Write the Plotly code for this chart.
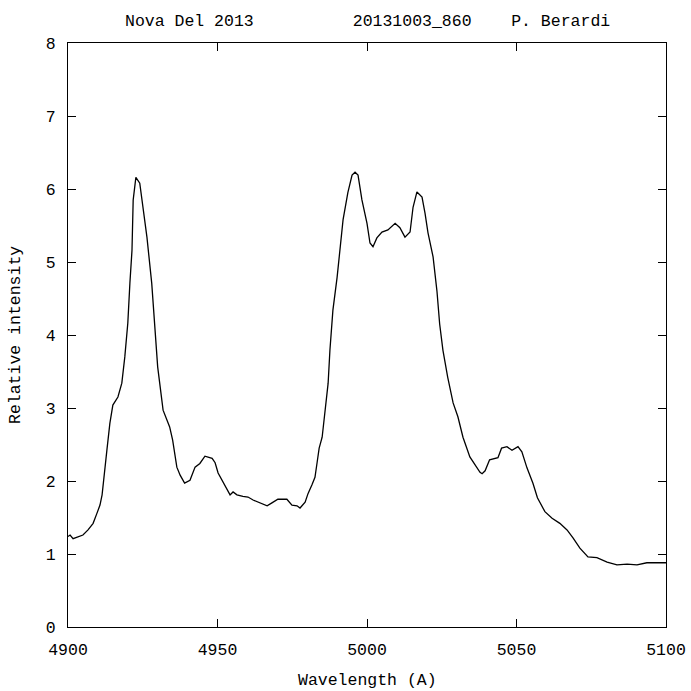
import plotly.graph_objects as go

wavelength = [
    4900.0, 4900.7, 4901.7, 4903.3, 4905.0, 4906.7, 4908.4, 4909.7, 4910.7, 4911.4,
    4912.0, 4913.0, 4914.0, 4915.0, 4916.7, 4918.0, 4919.0, 4920.0, 4920.7, 4921.4,
    4921.8, 4922.7, 4924.0, 4925.0, 4926.4, 4928.0, 4929.0, 4930.0, 4931.8, 4934.0,
    4935.0, 4936.4, 4937.5, 4939.0, 4940.8, 4942.5, 4944.1, 4945.8, 4948.2, 4949.2,
    4950.2, 4951.5, 4952.5, 4954.2, 4955.2, 4956.5, 4958.5, 4960.2, 4961.9, 4964.2,
    4966.6, 4968.2, 4970.2, 4973.2, 4974.9, 4976.6, 4977.6, 4979.3, 4980.3, 4981.6,
    4982.6, 4983.3, 4984.0, 4985.0, 4986.0, 4987.0, 4987.6, 4988.6, 4990.0, 4991.0,
    4992.0, 4993.6, 4995.0, 4996.0, 4997.0, 4998.3, 5000.0, 5001.0, 5002.0, 5003.3,
    5005.0, 5007.0, 5009.4, 5011.0, 5012.7, 5014.4, 5015.4, 5016.7, 5018.4, 5019.4,
    5020.4, 5022.1, 5023.4, 5024.3, 5025.4, 5027.0, 5028.8, 5030.4, 5032.1, 5034.4,
    5036.1, 5037.8, 5038.5, 5039.5, 5041.0, 5043.8, 5045.0, 5046.8, 5048.5, 5050.5,
    5051.8, 5053.5, 5055.5, 5057.0, 5059.5, 5061.9, 5064.5, 5066.9, 5068.9, 5071.2,
    5073.9, 5076.9, 5080.3, 5083.6, 5087.0, 5090.3, 5093.6, 5100.0,
]
intensity = [
    1.24, 1.26, 1.21, 1.23, 1.26, 1.33, 1.42, 1.56, 1.67, 1.81,
    2.01, 2.42, 2.79, 3.04, 3.15, 3.34, 3.70, 4.16, 4.71, 5.16,
    5.85, 6.16, 6.08, 5.75, 5.34, 4.71, 4.11, 3.56, 2.97, 2.74,
    2.56, 2.19, 2.08, 1.97, 2.01, 2.19, 2.24, 2.34, 2.31, 2.25,
    2.11, 2.01, 1.92, 1.81, 1.85, 1.81, 1.79, 1.78, 1.74, 1.70,
    1.66, 1.70, 1.75, 1.75, 1.67, 1.66, 1.63, 1.71, 1.83, 1.95,
    2.05, 2.25, 2.45, 2.60, 2.97, 3.34, 3.79, 4.34, 4.79, 5.21,
    5.58, 5.95, 6.19, 6.23, 6.19, 5.85, 5.53, 5.26, 5.21, 5.33,
    5.41, 5.44, 5.53, 5.47, 5.34, 5.41, 5.75, 5.96, 5.89, 5.67,
    5.40, 5.07, 4.60, 4.15, 3.79, 3.42, 3.07, 2.88, 2.60, 2.33,
    2.22, 2.12, 2.10, 2.14, 2.29, 2.32, 2.45, 2.47, 2.42, 2.47,
    2.40, 2.18, 1.97, 1.77, 1.58, 1.49, 1.42, 1.33, 1.22, 1.08,
    0.96, 0.95, 0.89, 0.85, 0.86, 0.85, 0.88, 0.88,
]

x_ticks = [4900, 4950, 5000, 5050, 5100]
y_ticks = [0, 1, 2, 3, 4, 5, 6, 7, 8]
title_text = "Nova Del 2013          20131003_860    P. Berardi"
x_title = "Wavelength (A)"
y_title = "Relative intensity"

FONT = dict(family="Liberation Mono, DejaVu Sans Mono, monospace", size=16.5, color="black")

fig = go.Figure()
fig.add_trace(go.Scatter(
    x=wavelength, y=intensity, mode="lines",
    line=dict(color="black", width=1.3),
    showlegend=False, hoverinfo="skip",
))

fig.update_layout(
    width=691, height=691,
    margin=dict(l=68, r=25, t=43, b=64, autoexpand=False),
    paper_bgcolor="white", plot_bgcolor="white",
    font=FONT,
    annotations=[
        dict(text=title_text, xref="paper", yref="paper", x=0.5, y=1.0,
             yshift=22, showarrow=False, xanchor="center", yanchor="middle", font=FONT),
        dict(text=x_title, xref="paper", yref="paper", x=0.5, y=0.0,
             yshift=-53, showarrow=False, xanchor="center", yanchor="middle", font=FONT),
        dict(text=y_title, xref="paper", yref="paper", x=0.0, y=0.5,
             xshift=-53, showarrow=False, xanchor="center", yanchor="middle",
             textangle=-90, font=FONT),
    ],
)
fig.update_xaxes(
    range=[4900, 5100], tickvals=x_ticks, ticktext=[str(v) for v in x_ticks],
    ticks="inside", ticklen=8, tickcolor="black", tickwidth=1,
    showline=True, linecolor="black", linewidth=1, mirror="ticks",
    showgrid=False, zeroline=False, ticklabelstandoff=7, automargin=False,
)
fig.update_yaxes(
    range=[0, 8], tickvals=y_ticks, ticktext=[str(v) for v in y_ticks],
    ticks="inside", ticklen=8, tickcolor="black", tickwidth=1,
    showline=True, linecolor="black", linewidth=1, mirror="ticks",
    showgrid=False, zeroline=False, ticklabelstandoff=8, automargin=False,
)

fig.write_html("out.html")
